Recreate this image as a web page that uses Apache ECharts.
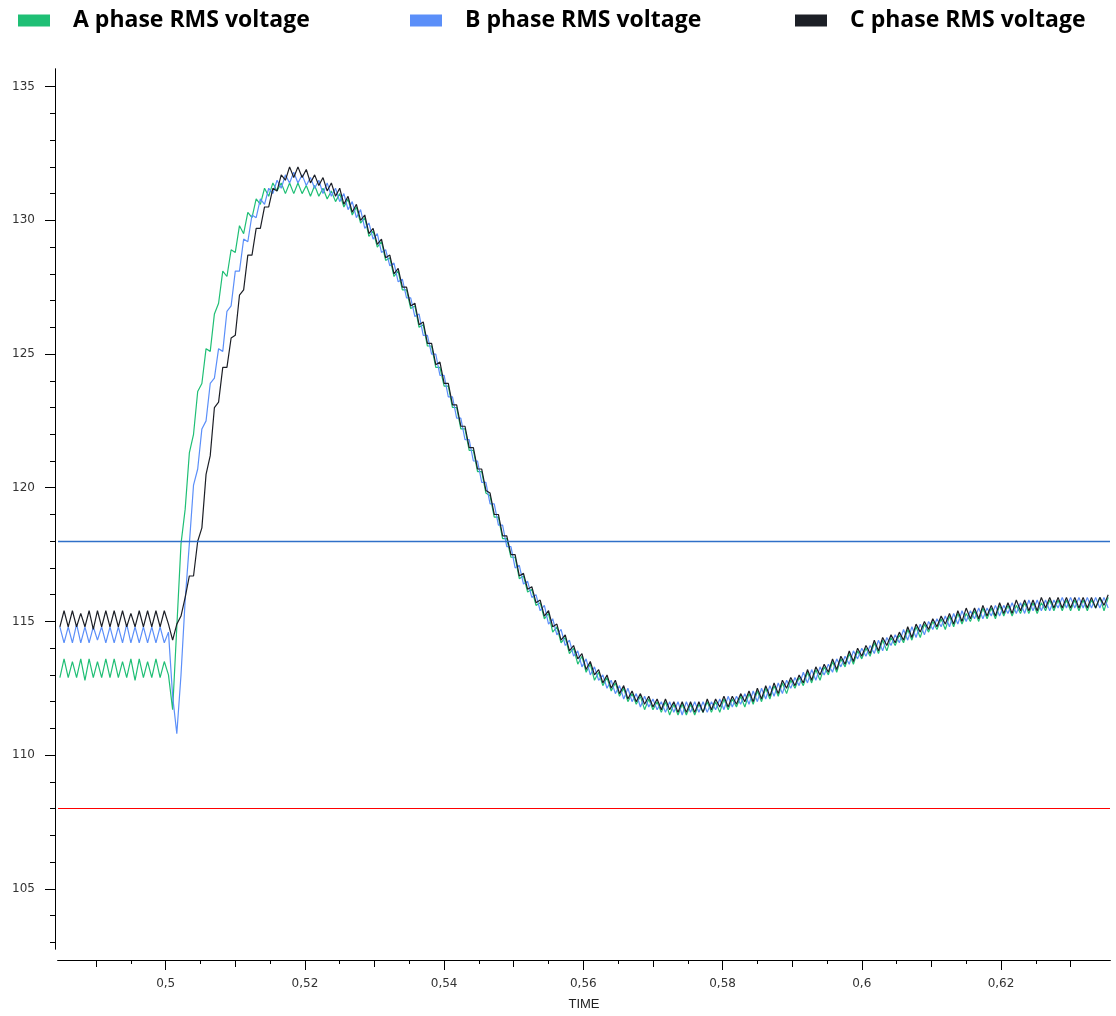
<!DOCTYPE html>
<html>
<head>
<meta charset="utf-8">
<title>Phase RMS voltage</title>
<script src="https://cdn.jsdelivr.net/npm/echarts@6.0.0/dist/echarts.min.js"></script>
<style>
  html, body { margin: 0; padding: 0; background: #fff; }
  #main { width: 1116px; height: 1016px; }
</style>
</head>
<body>
<div id="main"></div>
<script>
// sample times (s), one sample every half ripple period
const timeSamples = [
  0.4848,
  0.4854, 0.4860, 0.4866, 0.4872, 0.4878, 0.4884, 0.4890, 0.4896, 0.4902, 0.4908,
  0.4914, 0.4920, 0.4926, 0.4932, 0.4938, 0.4944, 0.4950, 0.4956, 0.4962, 0.4968,
  0.4974, 0.4980, 0.4986, 0.4992, 0.4998, 0.5004, 0.5010, 0.5016, 0.5022, 0.5028,
  0.5034, 0.5040, 0.5046, 0.5052, 0.5058, 0.5064, 0.5070, 0.5076, 0.5082, 0.5088,
  0.5094, 0.5100, 0.5106, 0.5112, 0.5118, 0.5124, 0.5130, 0.5136, 0.5142, 0.5148,
  0.5154, 0.5160, 0.5166, 0.5172, 0.5178, 0.5184, 0.5190, 0.5196, 0.5202, 0.5208,
  0.5214, 0.5220, 0.5226, 0.5232, 0.5238, 0.5244, 0.5250, 0.5256, 0.5262, 0.5268,
  0.5274, 0.5280, 0.5286, 0.5292, 0.5298, 0.5304, 0.5310, 0.5316, 0.5322, 0.5328,
  0.5334, 0.5340, 0.5346, 0.5352, 0.5358, 0.5364, 0.5370, 0.5376, 0.5382, 0.5388,
  0.5394, 0.5400, 0.5406, 0.5412, 0.5418, 0.5424, 0.5430, 0.5436, 0.5442, 0.5448,
  0.5454, 0.5460, 0.5466, 0.5472, 0.5478, 0.5484, 0.5490, 0.5496, 0.5502, 0.5508,
  0.5514, 0.5520, 0.5526, 0.5532, 0.5538, 0.5544, 0.5550, 0.5556, 0.5562, 0.5568,
  0.5574, 0.5580, 0.5586, 0.5592, 0.5598, 0.5604, 0.5610, 0.5616, 0.5622, 0.5628,
  0.5634, 0.5640, 0.5646, 0.5652, 0.5658, 0.5664, 0.5670, 0.5676, 0.5682, 0.5688,
  0.5694, 0.5700, 0.5706, 0.5712, 0.5718, 0.5724, 0.5730, 0.5736, 0.5742, 0.5748,
  0.5754, 0.5760, 0.5766, 0.5772, 0.5778, 0.5784, 0.5790, 0.5796, 0.5802, 0.5808,
  0.5814, 0.5820, 0.5826, 0.5832, 0.5838, 0.5844, 0.5850, 0.5856, 0.5862, 0.5868,
  0.5874, 0.5880, 0.5886, 0.5892, 0.5898, 0.5904, 0.5910, 0.5916, 0.5922, 0.5928,
  0.5934, 0.5940, 0.5946, 0.5952, 0.5958, 0.5964, 0.5970, 0.5976, 0.5982, 0.5988,
  0.5994, 0.6000, 0.6006, 0.6012, 0.6018, 0.6024, 0.6030, 0.6036, 0.6042, 0.6048,
  0.6054, 0.6060, 0.6066, 0.6072, 0.6078, 0.6084, 0.6090, 0.6096, 0.6102, 0.6108,
  0.6114, 0.6120, 0.6126, 0.6132, 0.6138, 0.6144, 0.6150, 0.6156, 0.6162, 0.6168,
  0.6174, 0.6180, 0.6186, 0.6192, 0.6198, 0.6204, 0.6210, 0.6216, 0.6222, 0.6228,
  0.6234, 0.6240, 0.6246, 0.6252, 0.6258, 0.6264, 0.6270, 0.6276, 0.6282, 0.6288,
  0.6294, 0.6300, 0.6306, 0.6312, 0.6318, 0.6324, 0.6330, 0.6336, 0.6342, 0.6348,
  0.6354
];

// A 相
const phaseA = [
  112.9,
  113.6, 112.9, 113.5, 112.9, 113.6, 112.8, 113.6, 112.9, 113.5, 112.9,
  113.6, 112.9, 113.6, 112.9, 113.5, 112.9, 113.6, 112.8, 113.6, 112.9,
  113.5, 112.9, 113.6, 112.9, 113.5, 113.0, 111.7, 114.8, 117.9, 119.2,
  121.3, 122.0, 123.6, 123.9, 125.2, 125.1, 126.5, 126.9, 128.1, 127.9,
  128.9, 128.8, 129.8, 129.5, 130.3, 130.1, 130.8, 130.6, 131.2, 130.9,
  131.4, 131.1, 131.4, 131.0, 131.4, 131.0, 131.4, 131.0, 131.3, 130.9,
  131.3, 130.9, 131.2, 130.8, 131.1, 130.7, 131.0, 130.5, 130.8, 130.2,
  130.5, 129.9, 130.1, 129.4, 129.6, 129.0, 129.2, 128.5, 128.6, 127.9,
  128.1, 127.4, 127.4, 126.7, 126.8, 126.0, 126.1, 125.3, 125.3, 124.5,
  124.5, 123.8, 123.8, 123.0, 123.0, 122.2, 122.2, 121.4, 121.4, 120.6,
  120.6, 119.8, 119.7, 118.9, 118.9, 118.1, 118.1, 117.4, 117.4, 116.6,
  116.7, 116.1, 116.2, 115.6, 115.7, 115.1, 115.3, 114.6, 114.8, 114.2,
  114.4, 113.8, 114.0, 113.4, 113.7, 113.1, 113.4, 112.8, 113.1, 112.6,
  112.9, 112.4, 112.7, 112.2, 112.5, 112.0, 112.3, 111.9, 112.2, 111.7,
  112.1, 111.7, 112.0, 111.6, 112.0, 111.5, 111.9, 111.5, 111.9, 111.5,
  111.9, 111.5, 111.9, 111.6, 112.0, 111.6, 112.0, 111.6, 112.1, 111.7,
  112.1, 111.8, 112.2, 111.8, 112.3, 111.9, 112.4, 112.0, 112.5, 112.1,
  112.6, 112.2, 112.7, 112.3, 112.8, 112.5, 112.9, 112.6, 113.1, 112.7,
  113.2, 112.8, 113.3, 113.0, 113.5, 113.1, 113.6, 113.3, 113.8, 113.4,
  113.9, 113.6, 114.0, 113.7, 114.2, 113.8, 114.3, 113.9, 114.4, 114.1,
  114.5, 114.2, 114.7, 114.3, 114.8, 114.4, 114.9, 114.6, 115.0, 114.7,
  115.1, 114.7, 115.2, 114.8, 115.3, 114.9, 115.3, 115.0, 115.4, 115.0,
  115.5, 115.1, 115.5, 115.1, 115.6, 115.2, 115.6, 115.2, 115.6, 115.3,
  115.7, 115.3, 115.7, 115.3, 115.7, 115.4, 115.8, 115.4, 115.8, 115.4,
  115.8, 115.4, 115.8, 115.4, 115.8, 115.4, 115.8, 115.5, 115.9, 115.4,
  115.9
];

// B 相
const phaseB = [
  114.8,
  114.2, 114.8, 114.2, 114.9, 114.2, 114.8, 114.2, 114.8, 114.3, 114.8,
  114.2, 114.8, 114.2, 114.8, 114.2, 114.9, 114.2, 114.8, 114.2, 114.8,
  114.2, 114.8, 114.2, 114.8, 114.2, 114.6, 112.2, 110.8, 113.0, 115.8,
  117.9, 120.1, 120.7, 122.2, 122.5, 123.9, 124.1, 125.2, 125.1, 126.6,
  126.8, 128.1, 128.1, 129.3, 129.2, 130.2, 130.1, 130.8, 130.6, 131.2,
  131.0, 131.5, 131.2, 131.7, 131.4, 131.8, 131.4, 131.7, 131.3, 131.6,
  131.2, 131.5, 131.0, 131.4, 130.9, 131.2, 130.7, 131.0, 130.4, 130.7,
  130.1, 130.4, 129.7, 129.9, 129.3, 129.5, 128.8, 128.9, 128.3, 128.4,
  127.7, 127.8, 127.1, 127.1, 126.4, 126.5, 125.7, 125.7, 125.0, 125.0,
  124.2, 124.2, 123.4, 123.4, 122.6, 122.6, 121.8, 121.8, 121.0, 121.0,
  120.2, 120.2, 119.4, 119.4, 118.6, 118.6, 117.8, 117.8, 117.0, 117.1,
  116.4, 116.5, 115.9, 116.0, 115.4, 115.6, 114.9, 115.1, 114.5, 114.7,
  114.1, 114.3, 113.7, 113.9, 113.3, 113.6, 113.0, 113.3, 112.8, 113.0,
  112.5, 112.8, 112.3, 112.6, 112.1, 112.5, 112.0, 112.3, 111.8, 112.2,
  111.8, 112.1, 111.7, 112.0, 111.6, 112.0, 111.6, 112.0, 111.5, 112.0,
  111.6, 112.0, 111.6, 112.0, 111.6, 112.0, 111.7, 112.1, 111.7, 112.2,
  111.8, 112.2, 111.9, 112.3, 111.9, 112.4, 112.0, 112.5, 112.1, 112.6,
  112.2, 112.7, 112.3, 112.8, 112.5, 112.9, 112.6, 113.1, 112.7, 113.2,
  112.8, 113.3, 113.0, 113.4, 113.1, 113.6, 113.3, 113.7, 113.4, 113.9,
  113.6, 114.0, 113.7, 114.1, 113.8, 114.3, 113.9, 114.4, 114.1, 114.5,
  114.2, 114.7, 114.3, 114.8, 114.4, 114.9, 114.5, 115.0, 114.7, 115.1,
  114.8, 115.2, 114.8, 115.3, 114.9, 115.4, 115.0, 115.4, 115.1, 115.5,
  115.1, 115.5, 115.2, 115.6, 115.2, 115.6, 115.3, 115.7, 115.3, 115.7,
  115.3, 115.8, 115.4, 115.8, 115.4, 115.8, 115.4, 115.8, 115.5, 115.9,
  115.5, 115.9, 115.5, 115.9, 115.5, 115.9, 115.5, 115.9, 115.5, 115.9,
  115.5
];

// C 相
const phaseC = [
  114.8,
  115.4, 114.8, 115.4, 114.8, 115.3, 114.8, 115.4, 114.7, 115.4, 114.8,
  115.4, 114.8, 115.4, 114.8, 115.4, 114.8, 115.3, 114.8, 115.4, 114.8,
  115.4, 114.8, 115.4, 114.8, 115.4, 114.9, 114.3, 114.9, 115.2, 115.9,
  116.7, 116.7, 118.0, 118.5, 120.5, 121.2, 123.0, 123.2, 124.5, 124.5,
  125.6, 125.7, 127.2, 127.4, 128.7, 128.7, 129.7, 129.7, 130.5, 130.5,
  131.2, 131.1, 131.7, 131.5, 132.0, 131.6, 132.0, 131.6, 131.9, 131.4,
  131.7, 131.3, 131.6, 131.1, 131.4, 130.9, 131.2, 130.6, 130.9, 130.3,
  130.6, 130.0, 130.2, 129.5, 129.7, 129.1, 129.3, 128.6, 128.7, 128.0,
  128.2, 127.5, 127.5, 126.8, 126.9, 126.1, 126.2, 125.4, 125.4, 124.6,
  124.7, 123.9, 123.9, 123.1, 123.1, 122.3, 122.3, 121.5, 121.5, 120.7,
  120.7, 119.9, 119.8, 119.0, 119.0, 118.2, 118.2, 117.5, 117.5, 116.7,
  116.8, 116.2, 116.3, 115.7, 115.8, 115.2, 115.4, 114.8, 114.9, 114.3,
  114.5, 113.9, 114.1, 113.6, 113.8, 113.2, 113.5, 113.0, 113.2, 112.7,
  113.0, 112.5, 112.8, 112.3, 112.6, 112.1, 112.4, 112.0, 112.3, 111.9,
  112.2, 111.8, 112.1, 111.7, 112.1, 111.7, 112.0, 111.6, 112.0, 111.6,
  112.0, 111.6, 112.0, 111.6, 112.1, 111.7, 112.1, 111.8, 112.2, 111.8,
  112.2, 111.9, 112.3, 112.0, 112.4, 112.0, 112.5, 112.1, 112.6, 112.2,
  112.7, 112.3, 112.8, 112.5, 112.9, 112.6, 113.0, 112.7, 113.2, 112.8,
  113.3, 113.0, 113.4, 113.1, 113.6, 113.2, 113.7, 113.4, 113.9, 113.5,
  114.0, 113.7, 114.1, 113.8, 114.3, 113.9, 114.4, 114.1, 114.5, 114.2,
  114.6, 114.3, 114.8, 114.4, 114.9, 114.6, 115.0, 114.7, 115.1, 114.8,
  115.2, 114.9, 115.3, 114.9, 115.4, 115.0, 115.5, 115.1, 115.5, 115.1,
  115.6, 115.2, 115.6, 115.2, 115.7, 115.3, 115.7, 115.3, 115.8, 115.4,
  115.8, 115.4, 115.8, 115.4, 115.9, 115.5, 115.9, 115.5, 115.9, 115.5,
  115.9, 115.5, 115.9, 115.5, 115.9, 115.5, 115.9, 115.5, 115.9, 115.6,
  116.0
];

const seriesNames = ['A phase RMS voltage', 'B phase RMS voltage', 'C phase RMS voltage'];
const seriesColors = ['#1fbf75', '#5b8ff9', '#1c1f26'];

// 上下限
const upperLimit = 118;
const lowerLimit = 108;

// 坐标轴刻度
const xLabelTicks = [0.5, 0.52, 0.54, 0.56, 0.58, 0.6, 0.62];
const xMidTicks = [0.49, 0.51, 0.53, 0.55, 0.57, 0.59, 0.61, 0.63];
const xMinorTicks = [0.49, 0.495, 0.5, 0.505, 0.51, 0.515, 0.52, 0.525, 0.53, 0.535,
  0.54, 0.545, 0.55, 0.555, 0.56, 0.565, 0.57, 0.575, 0.58, 0.585, 0.59, 0.595,
  0.6, 0.605, 0.61, 0.615, 0.62, 0.625, 0.63];
const yLabelTicks = [105, 110, 115, 120, 125, 130, 135];
const yMinorTicks = [103, 104, 106, 107, 108, 109, 111, 112, 113, 114, 116, 117, 118, 119,
  121, 122, 123, 124, 126, 127, 128, 129, 131, 132, 133, 134];

const X_MIN = 0.48453;
const X_MAX = 0.63566;
const Y_MIN = 102.75;
const Y_MAX = 135.66;

let chart = echarts.init(document.getElementById('main'));

// x 轴：三层刻度叠在一起
const makeXAxis = (ticks, len, withLabel) => ({
  type: 'value',
  min: X_MIN,
  max: X_MAX,
  position: 'bottom',
  offset: 11,
  axisLine: { show: true, lineStyle: { color: '#000', width: 1 } },
  axisTick: { show: true, customValues: ticks, length: len, lineStyle: { color: '#000', width: 1 } },
  axisLabel: withLabel ? {
    show: true,
    customValues: xLabelTicks,
    margin: 18,
    fontFamily: 'DejaVu Sans',
    fontSize: 12,
    color: '#333',
    formatter: v => String(v).replace('.', ',')
  } : { show: false },
  splitLine: { show: false },
  name: withLabel ? 'TIME' : '',
  nameLocation: 'middle',
  nameGap: 38,
  nameTextStyle: {
    fontFamily: 'Liberation Sans Narrow, Liberation Sans',
    fontSize: 13,
    color: '#222'
  }
});

const makeYAxis = (ticks, len, withLabel) => ({
  type: 'value',
  min: Y_MIN,
  max: Y_MAX,
  position: 'left',
  offset: 3,
  axisLine: { show: true, lineStyle: { color: '#000', width: 1 } },
  axisTick: { show: true, customValues: ticks, length: len, lineStyle: { color: '#000', width: 1 } },
  axisLabel: withLabel ? {
    show: true,
    customValues: yLabelTicks,
    margin: 20,
    fontFamily: 'DejaVu Sans',
    fontSize: 12,
    color: '#333'
  } : { show: false },
  splitLine: { show: false }
});

const makeLegend = (name, left) => ({
  data: [name],
  left: left,
  top: 4,
  icon: 'rect',
  itemWidth: 32,
  itemHeight: 12,
  selectedMode: false,
  formatter: '{t|{name}}',
  textStyle: {
    rich: {
      t: {
        padding: [0, 0, 0, 18],
        fontFamily: 'Open Sans',
        fontWeight: 'bold',
        fontSize: 23,
        color: '#000'
      }
    }
  }
});

// 限值线（颜色要写在每条数据上才生效）
const makeLimitLine = (value, color, width) => ({
  silent: true,
  symbol: ['none', 'none'],
  label: { show: false },
  emphasis: { disabled: true },
  data: [{ yAxis: value, lineStyle: { color: color, width: width, type: 'solid', opacity: 1 } }]
});

const makeSeries = (idx, values) => ({
  name: seriesNames[idx],
  type: 'line',
  data: timeSamples.map((t, i) => [t, values[i]]),
  symbol: 'none',
  showSymbol: false,
  color: seriesColors[idx],
  lineStyle: { color: seriesColors[idx], width: 1.2 },
  emphasis: { disabled: true },
  clip: true
});

let seriesA = makeSeries(0, phaseA);
seriesA.markLine = makeLimitLine(upperLimit, '#3070c8', 1.4);
let seriesB = makeSeries(1, phaseB);
seriesB.markLine = makeLimitLine(lowerLimit, '#ff0000', 1);

let chartOptions = {
  animation: false,
  backgroundColor: '#fff',
  grid: {
    left: 58,
    right: 6,
    top: 69,
    bottom: 67,
    containLabel: false,
    outerBoundsMode: 'none'
  },
  legend: [
    makeLegend(seriesNames[0], 13),
    makeLegend(seriesNames[1], 405),
    makeLegend(seriesNames[2], 790)
  ],
  xAxis: [
    makeXAxis(xLabelTicks, 10, true),
    makeXAxis(xMidTicks, 7, false),
    makeXAxis(xMinorTicks, 4, false)
  ],
  yAxis: [
    makeYAxis(yLabelTicks, 10, true),
    makeYAxis(yMinorTicks, 5, false)
  ],
  series: [
    seriesA,
    seriesB,
    makeSeries(2, phaseC)
  ]
};
chart.setOption(chartOptions);
</script>
</body>
</html>
